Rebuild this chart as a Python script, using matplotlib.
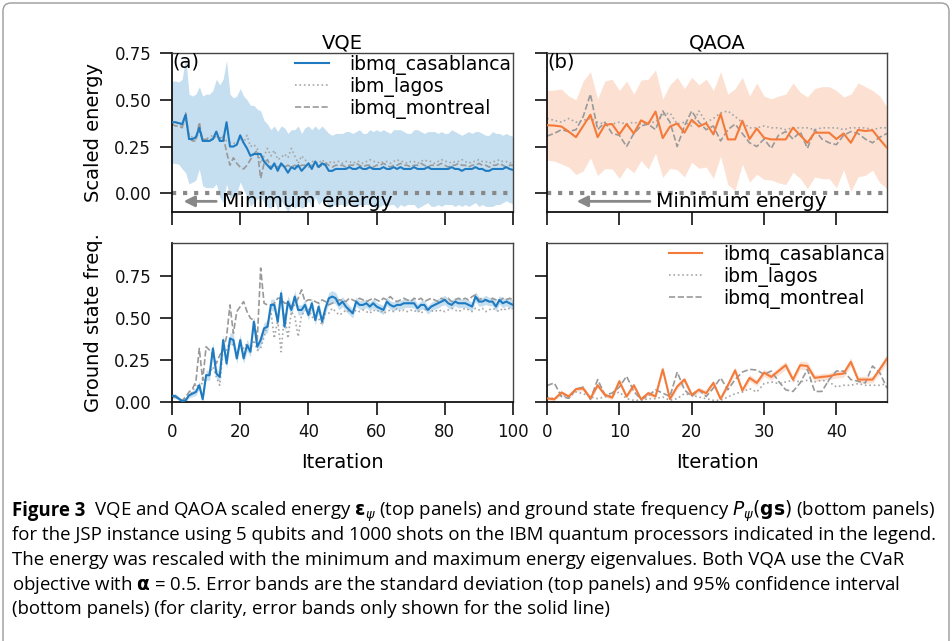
import matplotlib
matplotlib.use("Agg")
import matplotlib.pyplot as plt
from matplotlib import font_manager
from matplotlib.patches import FancyBboxPatch
import numpy as np

# ---- VQE (left column), iterations 0..100
vqe_casa_energy = [
    .38, .38, .375, .37, .42, .29, .29, .30, .35, .28,
    .28, .28, .29, .33, .28, .28, .38, .25, .25, .26,
    .31, .27, .24, .20, .21, .21, .21, .17, .15, .13,
    .16, .12, .16, .14, .11, .14, .13, .15, .12, .14,
    .16, .13, .17, .14, .16, .15, .12, .12, .13, .13,
    .13, .13, .14, .13, .13, .14, .13, .13, .14, .13,
    .13, .13, .14, .13, .13, .14, .13, .14, .13, .13,
    .13, .14, .13, .13, .13, .14, .13, .13, .13, .13,
    .13, .13, .14, .13, .13, .12, .13, .13, .13, .14,
    .13, .13, .12, .12, .13, .13, .13, .13, .14, .13,
    .125]
vqe_casa_std = [
    .22, .22, .22, .24, .31, .24, .23, .23, .22, .24,
    .25, .25, .26, .28, .30, .33, .33, .28, .26, .26,
    .25, .25, .26, .27, .26, .24, .23, .22, .22, .21,
    .20, .21, .20, .21, .21, .20, .21, .21, .20, .21,
    .20, .21, .19, .20, .20, .19, .20, .19, .19, .19,
    .19, .20, .19, .19, .20, .20, .19, .19, .20, .20,
    .21, .20, .20, .20, .19, .20, .21, .20, .20, .19,
    .19, .20, .21, .20, .19, .19, .20, .20, .19, .20,
    .19, .19, .20, .20, .19, .19, .19, .20, .19, .19,
    .20, .19, .19, .19, .20, .19, .19, .18, .18, .18,
    .18]
vqe_lagos_energy = [
    .38, .38, .37, .36, .39, .31, .30, .29, .33, .29,
    .29, .30, .31, .30, .29, .30, .28, .27, .27, .26,
    .29, .27, .31, .25, .26, .24, .16, .20, .24, .20,
    .23, .18, .19, .21, .19, .24, .20, .16, .20, .18,
    .16, .17, .17, .16, .18, .16, .17, .16, .17, .17,
    .16, .17, .17, .16, .17, .17, .16, .17, .18, .17,
    .17, .16, .17, .17, .16, .17, .18, .17, .17, .16,
    .17, .17, .16, .17, .18, .17, .17, .16, .17, .18,
    .17, .17, .16, .17, .17, .18, .17, .16, .17, .17,
    .18, .17, .17, .16, .17, .17, .18, .17, .17, .16,
    .17]
vqe_montreal_energy = [
    .37, .36, .36, .35, .43, .30, .28, .28, .38, .28,
    .29, .29, .29, .31, .29, .31, .22, .15, .19, .16,
    .14, .13, .15, .18, .21, .23, .08, .16, .18, .14,
    .15, .14, .15, .14, .15, .14, .15, .14, .15, .15,
    .14, .15, .15, .14, .15, .16, .15, .14, .15, .15,
    .15, .14, .15, .15, .16, .15, .14, .15, .15, .14,
    .15, .15, .16, .15, .14, .15, .15, .16, .15, .15,
    .14, .15, .15, .16, .15, .14, .15, .15, .15, .16,
    .15, .14, .15, .15, .16, .15, .15, .14, .15, .15,
    .16, .15, .15, .14, .15, .15, .16, .15, .14, .15,
    .15]
vqe_casa_gs = [
    .036, .035, .02, .005, .01, .04, .05, .06, .10, .016,
    .16, .16, .32, .17, .15, .37, .23, .38, .37, .26,
    .37, .26, .34, .30, .48, .33, .37, .44, .45, .58,
    .58, .48, .65, .45, .60, .55, .63, .55, .55, .58,
    .52, .59, .49, .57, .48, .56, .62, .63, .62, .58,
    .60, .57, .55, .53, .60, .58, .58, .59, .57, .59,
    .57, .56, .55, .60, .58, .57, .58, .58, .59, .59,
    .59, .59, .56, .58, .58, .55, .57, .58, .59, .60,
    .61, .59, .58, .60, .59, .59, .59, .58, .57, .63,
    .60, .60, .61, .60, .60, .57, .61, .59, .60, .59,
    .58]
vqe_casa_ci = [
    .015, .015, .012, .01, .012, .015, .018, .02, .025, .015,
    .03, .03, .035, .03, .03, .035, .03, .035, .035, .03,
    .035, .03, .035, .03, .035, .03, .035, .035, .035, .035,
    .035, .035, .035, .035, .035, .035, .035, .03, .03, .03,
    .03, .03, .03, .03, .03, .03, .035, .035, .035, .03,
    .03, .03, .028, .028, .028, .025, .028, .025, .025, .028,
    .025, .025, .028, .025, .025, .028, .025, .025, .028, .025,
    .025, .028, .025, .025, .028, .025, .025, .025, .028, .025,
    .028, .028, .025, .025, .028, .025, .025, .028, .025, .03,
    .028, .025, .028, .025, .025, .028, .025, .028, .025, .028,
    .028]
vqe_lagos_gs = [
    .03, .03, .02, .01, .02, .04, .06, .11, .08, .12,
    .16, .17, .21, .15, .10, .33, .31, .36, .34, .28,
    .34, .32, .35, .31, .37, .31, .32, .39, .46, .54,
    .38, .49, .30, .53, .38, .54, .51, .39, .52, .54,
    .56, .51, .49, .50, .46, .53, .53, .56, .54, .52,
    .53, .55, .54, .53, .55, .54, .55, .54, .53, .55,
    .54, .55, .53, .54, .55, .54, .56, .54, .55, .54,
    .55, .54, .55, .53, .55, .56, .54, .55, .54, .55,
    .54, .55, .56, .55, .54, .55, .56, .55, .54, .56,
    .55, .56, .54, .55, .56, .55, .54, .56, .55, .56,
    .56]
vqe_montreal_gs = [
    .03, .03, .02, .01, .03, .06, .08, .12, .32, .13,
    .33, .31, .28, .23, .28, .31, .39, .58, .41, .54,
    .57, .60, .54, .50, .49, .37, .80, .59, .58, .58,
    .59, .62, .62, .59, .59, .57, .58, .62, .67, .60,
    .61, .61, .60, .59, .61, .60, .58, .59, .60, .61,
    .61, .60, .62, .61, .60, .62, .61, .60, .61, .62,
    .61, .60, .62, .61, .63, .61, .60, .61, .62, .61,
    .60, .62, .61, .62, .60, .61, .62, .61, .60, .62,
    .61, .62, .60, .61, .62, .61, .62, .61, .63, .64,
    .61, .62, .61, .60, .62, .61, .60, .62, .61, .62,
    .61]

# ---- QAOA (right column), iterations 0..47
qaoa_casa_energy = [
    .364, .362, .357, .33, .30, .36, .42, .30, .366, .37,
    .315, .37, .32, .39, .37, .437, .295, .357, .373, .324,
    .393, .357, .375, .315, .424, .288, .288, .388, .29, .346,
    .297, .288, .288, .288, .351, .31, .27, .324, .324, .324,
    .29, .32, .27, .339, .333, .337, .288, .243]
qaoa_casa_std = [
    .186, .19, .20, .19, .20, .24, .23, .205, .234, .24,
    .235, .23, .21, .215, .24, .223, .21, .223, .247, .236,
    .227, .223, .235, .235, .226, .242, .272, .232, .23, .244,
    .223, .217, .232, .242, .239, .23, .245, .236, .246, .246,
    .26, .195, .26, .251, .237, .213, .232, .217]
qaoa_lagos_energy = [
    .40, .39, .38, .40, .38, .39, .40, .38, .37, .37,
    .38, .37, .38, .37, .38, .38, .42, .43, .37, .38,
    .36, .44, .38, .40, .43, .44, .41, .38, .35, .35,
    .36, .35, .35, .34, .35, .35, .35, .34, .35, .35,
    .35, .34, .35, .35, .35, .34, .35, .35]
qaoa_montreal_energy = [
    .306, .32, .34, .33, .34, .41, .53, .34, .38, .32,
    .31, .25, .32, .36, .37, .34, .44, .38, .25, .36,
    .44, .38, .34, .36, .28, .34, .37, .32, .27, .25,
    .29, .24, .31, .33, .29, .33, .24, .34, .29, .27,
    .26, .31, .33, .32, .29, .27, .30, .32]
qaoa_casa_gs = [
    .022, .016, .057, .033, .077, .081, .022, .10, .043, .026,
    .124, .033, .10, .016, .053, .033, .195, .018, .093, .134,
    .043, .073, .053, .114, .018, .10, .189, .069, .144, .114,
    .175, .15, .185, .22, .134, .22, .215, .144, .15, .154,
    .165, .17, .24, .134, .134, .134, .195, .26]
qaoa_casa_ci = [
    .01, .01, .012, .012, .014, .014, .012, .015, .014, .012,
    .016, .012, .015, .01, .014, .012, .02, .01, .016, .018,
    .014, .016, .015, .018, .01, .016, .02, .016, .02, .018,
    .022, .02, .022, .024, .02, .024, .024, .02, .02, .02,
    .022, .022, .025, .02, .02, .02, .024, .026]
qaoa_lagos_gs = [
    .03, .02, .04, .03, .06, .05, .03, .02, .03, .04,
    .06, .02, .01, .01, .02, .02, .03, .01, .02, .05,
    .04, .03, .02, .01, .01, .03, .05, .06, .08, .06,
    .11, .12, .11, .12, .13, .12, .13, .12, .13, .12,
    .09, .10, .10, .11, .10, .10, .10, .11]
qaoa_montreal_gs = [
    .098, .114, .033, .022, .077, .089, .016, .134, .043, .053,
    .089, .154, .063, .016, .037, .073, .053, .033, .179, .073,
    .033, .073, .033, .083, .144, .073, .134, .179, .195, .191,
    .165, .185, .124, .073, .063, .114, .195, .063, .063, .134,
    .185, .185, .134, .124, .114, .215, .175, .083]

labels = ["ibmq_casablanca", "ibm_lagos", "ibmq_montreal"]
energy_ticks = [0.0, 0.25, 0.5, 0.75]
gs_ticks = [0.0, 0.25, 0.5, 0.75]

BLUE = "#1f7bc1"
BLUE_BAND = "#c5dff0"
ORANGE = "#f47a3a"
ORANGE_BAND = "#fce1d3"


def pick_family(names):
    for name in names:
        try:
            font_manager.findfont(name, fallback_to_default=False)
            return name
        except ValueError:
            pass
    return "DejaVu Sans"


def style_axes(ax):
    for side in ["left", "bottom"]:
        ax.spines[side].set_color("#111111")
        ax.spines[side].set_linewidth(1.3)
    for side in ["top", "right"]:
        ax.spines[side].set_color("#444444")
        ax.spines[side].set_linewidth(1.0)
    ax.tick_params(direction="out", length=9, width=1.2, labelsize=12,
                   pad=6, colors="#111111")


def draw_lines(ax, it, mean, spread, lagos, montreal, color, band):
    mean = np.asarray(mean)
    spread = np.asarray(spread)
    ax.fill_between(it, mean - spread, mean + spread, color=band, lw=0,
                    zorder=1)
    ax.plot(it, lagos, color="#a6a6a6", ls=":", lw=1.2, zorder=2,
            label=labels[1])
    ax.plot(it, montreal, color="#999999", ls="--", lw=1.2, zorder=2,
            label=labels[2])
    line, = ax.plot(it, mean, color=color, lw=1.5, zorder=3,
                    label=labels[0])
    return line


def add_legend(ax):
    h, l = ax.get_legend_handles_labels()
    order = [2, 0, 1]
    ax.legend([h[i] for i in order], [l[i] for i in order], loc="upper right",
              frameon=False, fontsize=13.5, handlelength=1.8, labelspacing=0.1,
              borderaxespad=0.0, borderpad=0.1, handletextpad=1.1)


def min_energy(ax, tip, start):
    ax.axhline(0, color="#888888", ls=":", lw=3, zorder=2)
    ax.annotate("Minimum energy", xy=(tip, -0.043), xytext=(start, -0.043),
                fontsize=14.5, va="center", ha="left",
                arrowprops=dict(arrowstyle="-|>", color="#888888", lw=2,
                                mutation_scale=16, shrinkA=2, shrinkB=0))


fig = plt.figure(figsize=(9.53, 6.41), dpi=100)
W, H = 953.0, 641.0


def place(x0, y0, x1, y1):
    return fig.add_axes([x0 / W, 1 - y1 / H, (x1 - x0) / W, (y1 - y0) / H])


ax_a = place(172, 53, 513, 212)
ax_b = place(547, 53, 887, 212)
ax_c = place(172, 243, 513, 402)
ax_d = place(547, 243, 887, 402)

it_vqe = np.arange(len(vqe_casa_energy))
it_qaoa = np.arange(len(qaoa_casa_energy))

draw_lines(ax_a, it_vqe, vqe_casa_energy, vqe_casa_std, vqe_lagos_energy,
           vqe_montreal_energy, BLUE, BLUE_BAND)
draw_lines(ax_b, it_qaoa, qaoa_casa_energy, qaoa_casa_std, qaoa_lagos_energy,
           qaoa_montreal_energy, ORANGE, ORANGE_BAND)
draw_lines(ax_c, it_vqe, vqe_casa_gs, vqe_casa_ci, vqe_lagos_gs,
           vqe_montreal_gs, BLUE, BLUE_BAND)
draw_lines(ax_d, it_qaoa, qaoa_casa_gs, qaoa_casa_ci, qaoa_lagos_gs,
           qaoa_montreal_gs, ORANGE, ORANGE_BAND)

min_energy(ax_a, 3.4, 14.6)
min_energy(ax_b, 4.1, 15.0)
add_legend(ax_a)
add_legend(ax_d)

for ax in [ax_a, ax_c]:
    ax.set_xlim(0, 100)
    ax.set_xticks([0, 20, 40, 60, 80, 100])
for ax in [ax_b, ax_d]:
    ax.set_xlim(0, 47)
    ax.set_xticks([0, 10, 20, 30, 40])
for ax in [ax_a, ax_b]:
    ax.set_ylim(-0.1, 0.75)
    ax.set_yticks(energy_ticks)
    ax.tick_params(labelbottom=False)
for ax in [ax_c, ax_d]:
    ax.set_ylim(0, 0.95)
    ax.set_yticks(gs_ticks)
    ax.set_xlabel("Iteration", fontsize=14, labelpad=9)
for ax in [ax_b, ax_d]:
    ax.tick_params(labelleft=False)
for ax in [ax_a, ax_b, ax_c, ax_d]:
    style_axes(ax)
    ax.yaxis.set_major_formatter(plt.FormatStrFormatter("%.2f"))

ax_a.set_ylabel("Scaled energy", fontsize=14, labelpad=8)
ax_c.set_ylabel("Ground state freq.", fontsize=14, labelpad=8)
ax_a.set_title("VQE", fontsize=14, pad=3)
ax_b.set_title("QAOA", fontsize=14, pad=3)
ax_a.text(0.0, 1.0, "(a)", transform=ax_a.transAxes, fontsize=14,
          va="top", ha="left")
ax_b.text(0.0, 1.0, "(b)", transform=ax_b.transAxes, fontsize=14,
          va="top", ha="left")
fig.align_ylabels([ax_a, ax_c])

# caption
cap_font = pick_family(["Liberation Sans Narrow", "Open Sans", "DejaVu Sans"])
cap_size = 13.4
lines = [
    r"VQE and QAOA scaled energy $\mathbf{\epsilon}_{\psi}$ (top panels) and "
    r"ground state frequency $P_{\psi}(\mathbf{gs})$ (bottom panels)",
    "for the JSP instance using 5 qubits and 1000 shots on the IBM quantum "
    "processors indicated in the legend.",
    "The energy was rescaled with the minimum and maximum energy eigenvalues. "
    "Both VQA use the CVaR",
    r"objective with $\mathbf{\alpha}$ = 0.5. Error bands are the standard "
    "deviation (top panels) and 95% confidence interval",
    "(bottom panels) (for clarity, error bands only shown for the solid line)",
]
ys = [511, 535.5, 560, 584.5, 609]
head = fig.text(12 / W, 1 - ys[0] / H, "Figure 3", fontsize=cap_size,
                family=cap_font, weight="bold", va="center", ha="left")
ax_a.annotate("  " + lines[0], xy=(1, 0.5), xycoords=head, va="center",
              ha="left", fontsize=cap_size, family=cap_font,
              annotation_clip=False)
for txt, y in zip(lines[1:], ys[1:]):
    fig.text(12 / W, 1 - y / H, txt, fontsize=cap_size, family=cap_font,
             va="center", ha="left")

frame = FancyBboxPatch((3 / 100.0, -0.3), 9.46, 6.38 + 0.3,
                       boxstyle="round,pad=0,rounding_size=0.08",
                       transform=fig.dpi_scale_trans, fill=False,
                       edgecolor="#9a9a9a", lw=1.0)
fig.patches.append(frame)

fig.savefig("out.png", dpi=100)
